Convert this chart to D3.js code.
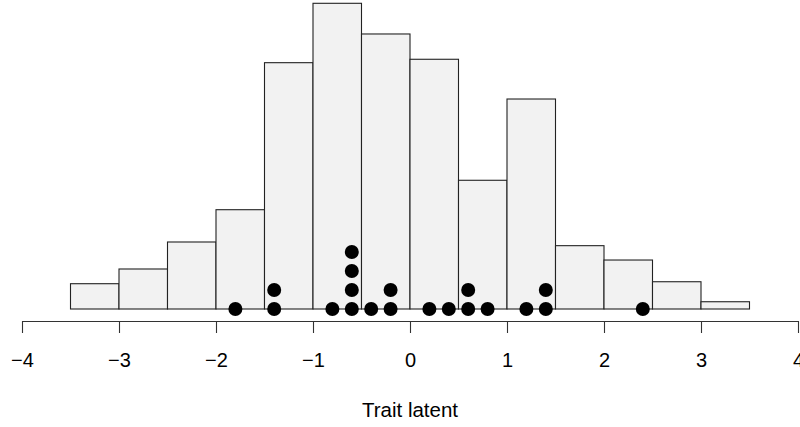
<!DOCTYPE html>
<html><head><meta charset="utf-8">
<script src="https://cdn.jsdelivr.net/npm/d3@7"></script>
<style>body{margin:0;background:#fff}svg{display:block}</style>
</head><body>
<script>
// Histogram bins (left edges, width 0.5) and densities
const binStarts = [-3.5,-3,-2.5,-2,-1.5,-1,-0.5,0,0.5,1,1.5,2,2.5,3];
const binWidth = 0.5;
const densities = [0.0282,0.0446,0.0747,0.1107,0.2746,0.3408,0.3066,0.2784,0.1435,0.2341,0.0706,0.0546,0.0304,0.0081];
// Observed points (stacked)
const points = [-1.8,-1.4,-1.4,-0.8,-0.6,-0.6,-0.6,-0.6,-0.4,-0.2,-0.2,0.2,0.4,0.6,0.6,0.8,1.2,1.4,1.4,2.4];
const xTicks = [-4,-3,-2,-1,0,1,2,3,4];
const xLabel = "Trait latent";

const W = 800, H = 427;
const svg = d3.select("body").append("svg").attr("width", W).attr("height", H);
const x = d3.scaleLinear().domain([-4, 4]).range([22, 798]);
const y = d3.scaleLinear().domain([0, 0.35]).range([309, 309 - 0.35 * 897]);

svg.append("g").selectAll("rect").data(binStarts).join("rect")
  .attr("x", (d) => x(d))
  .attr("width", (d) => x(d + binWidth) - x(d))
  .attr("y", (d, i) => y(densities[i]))
  .attr("height", (d, i) => y(0) - y(densities[i]))
  .attr("fill", "#f2f2f2").attr("stroke", "#222").attr("stroke-width", 1.1);

// stacking
const counts = {};
const stacked = points.map(v => { const k = v.toFixed(2); counts[k] = (counts[k] || 0); const idx = counts[k]++; return {v, idx}; });
svg.append("g").selectAll("circle").data(stacked).join("circle")
  .attr("cx", d => x(d.v))
  .attr("cy", d => y(0) - d.idx * 19)
  .attr("r", 7).attr("fill", "#000");

const axis = d3.axisBottom(x).tickValues(xTicks).tickSize(12).tickPadding(20)
  .tickFormat(d => d < 0 ? "\u2212" + Math.abs(d) : String(d));
const g = svg.append("g").attr("transform", "translate(0,321)").call(axis);
g.select(".domain").attr("stroke", "#333").attr("stroke-width", 1.1).attr("d", `M${x(-4)},0.5H${x(4)}`);
g.selectAll(".tick line").attr("stroke", "#333").attr("stroke-width", 1.1);
g.selectAll(".tick text").attr("font-family", "Liberation Sans, Arial, sans-serif").attr("font-size", 20).attr("fill", "#000");

svg.append("text").attr("x", 410).attr("y", 417).attr("text-anchor", "middle")
  .attr("font-family", "Liberation Sans, Arial, sans-serif").attr("font-size", 20.5).text(xLabel);
</script>
</body></html>
